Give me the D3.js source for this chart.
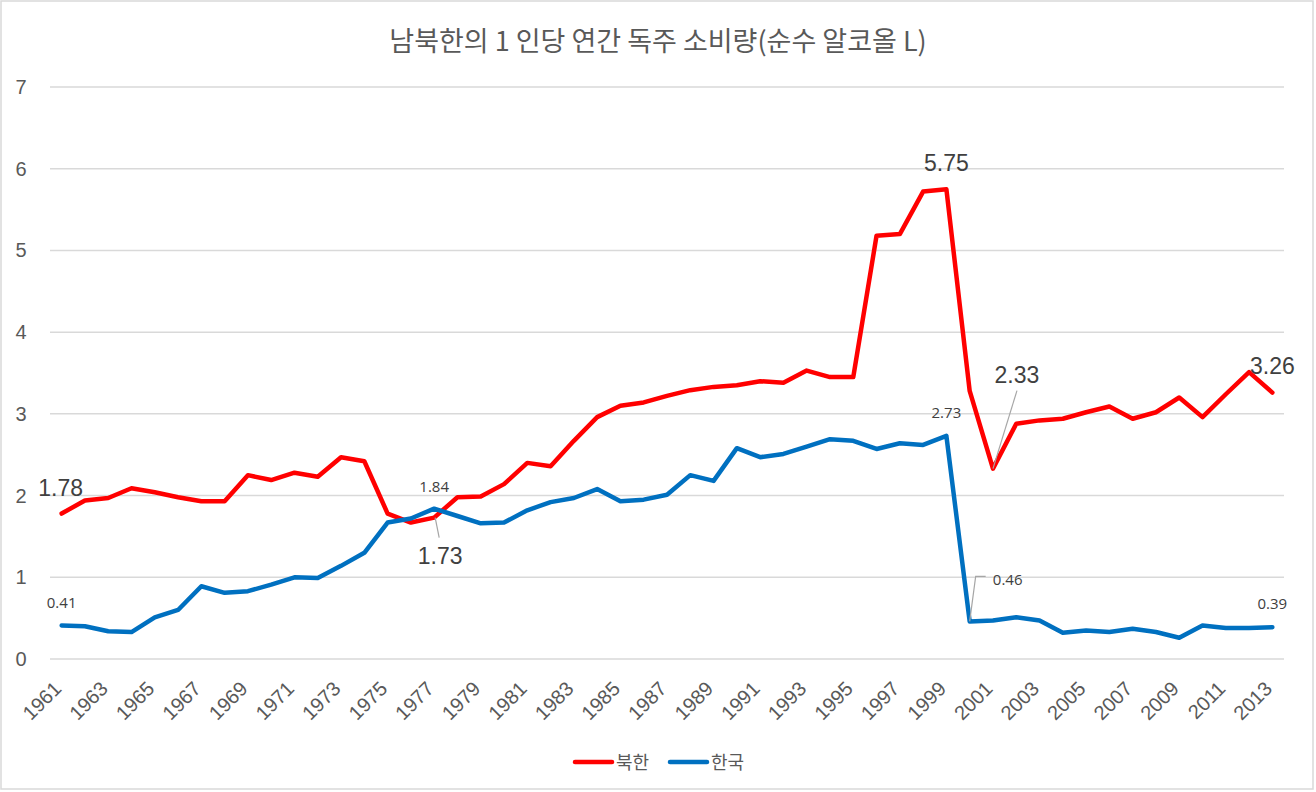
<!DOCTYPE html>
<head>
  <meta charset="utf-8">
  <script src="https://cdnjs.cloudflare.com/ajax/libs/d3/7.8.5/d3.min.js"></script>
  <style>
    body { margin:0; background:#fff; }
    svg { display:block; }
    text { font-family: "Liberation Sans", Arial, sans-serif; }
    .kr { font-family: "Noto Sans CJK KR", sans-serif; }
  </style>
</head>

<body>
  <script>
    var years = d3.range(1961, 2014);
    // 북한
    var north = [1.78, 1.94, 1.97, 2.09, 2.04, 1.98, 1.93, 1.93, 2.25, 2.19,
                 2.28, 2.23, 2.47, 2.42, 1.78, 1.67, 1.73, 1.98, 1.99, 2.14,
                 2.40, 2.36, 2.67, 2.96, 3.10, 3.14, 3.22, 3.29, 3.33, 3.35,
                 3.40, 3.38, 3.53, 3.45, 3.45, 5.18, 5.20, 5.72, 5.75, 3.28,
                 2.33, 2.88, 2.92, 2.94, 3.02, 3.09, 2.94, 3.02, 3.20, 2.96,
                 3.24, 3.51, 3.26];
    // 한국
    var south = [0.41, 0.40, 0.34, 0.33, 0.51, 0.60, 0.89, 0.81, 0.83, 0.91,
                 1.00, 0.99, 1.14, 1.30, 1.67, 1.72, 1.84, 1.75, 1.66, 1.67,
                 1.82, 1.92, 1.97, 2.08, 1.93, 1.95, 2.01, 2.25, 2.18, 2.58,
                 2.47, 2.51, 2.60, 2.69, 2.67, 2.57, 2.64, 2.62, 2.73, 0.46,
                 0.47, 0.51, 0.47, 0.32, 0.35, 0.33, 0.37, 0.33, 0.26, 0.41,
                 0.38, 0.38, 0.39];
    var yTicks = [0, 1, 2, 3, 4, 5, 6, 7];
    var seriesNames = ["북한", "한국"];
    var seriesColors = ["#ff0000", "#0070c0"];

    var W = 1316, H = 792;
    var svg = d3.select("body").append("svg").attr("width", W).attr("height", H);

    svg.append("rect")
      .attr("x", 1).attr("y", 1).attr("width", W - 4).attr("height", H - 4)
      .style("fill", "#fff").style("stroke", "#d9d9d9").style("stroke-width", 1.5);

    var x = d3.scalePoint().domain(years).range([50, 1284]).padding(0.5);
    var y = d3.scaleLinear().domain([0, 7]).range([659, 87]);

    // title
    svg.append("text").attr("class", "kr")
      .attr("x", 658).attr("y", 51).attr("text-anchor", "middle")
      .style("font-size", "27px").style("fill", "#595959")
      .text("남북한의 1 인당 연간 독주 소비량(순수 알코올 L)");

    // gridlines + y labels
    var gy = svg.append("g");
    gy.selectAll("line").data(yTicks).enter().append("line")
      .attr("x1", 50).attr("x2", 1284)
      .attr("y1", function(d){ return y(d); }).attr("y2", function(d){ return y(d); })
      .style("stroke", "#d9d9d9").style("stroke-width", 1.5);
    gy.selectAll("text").data(yTicks).enter().append("text")
      .attr("x", 21).attr("y", function(d){ return y(d) + 7; })
      .attr("text-anchor", "middle")
      .style("font-size", "20px").style("fill", "#595959")
      .text(function(d){ return d; });

    // x labels, every other year
    svg.append("g").selectAll("text")
      .data(years.filter(function(d, i){ return i % 2 == 0; }))
      .enter().append("text")
      .attr("transform", function(d){ return "translate(" + (x(d) - 9) + ",680) rotate(-45)"; })
      .attr("text-anchor", "end")
      .attr("dy", "0.7em")
      .style("font-size", "20px").style("fill", "#595959")
      .text(function(d){ return d; });

    var line = d3.line()
      .x(function(d, i){ return x(years[i]); })
      .y(function(d){ return y(d); });

    [north, south].forEach(function(data, k){
      svg.append("path").datum(data)
        .attr("d", line)
        .style("fill", "none").style("stroke", seriesColors[k])
        .style("stroke-width", 4.5).style("stroke-linejoin", "round").style("stroke-linecap", "round");
    });

    // data labels (offsets relative to the point)
    function idx(yr){ return years.indexOf(yr); }
    var labels = [
      {s: north, yr: 1961, dx: -1, dy: -26, big: true},
      {s: north, yr: 1977, dx: 6, dy: 38, big: true, leader: [[1, 0], [5, 20]]},
      {s: north, yr: 1999, dx: 0, dy: -26, big: true},
      {s: north, yr: 2001, dx: 24, dy: -94, big: true, leader: [[0, 0], [24, -78]]},
      {s: north, yr: 2013, dx: 0, dy: -27, big: true},
      {s: south, yr: 1961, dx: 0, dy: -23, big: false},
      {s: south, yr: 1977, dx: 0, dy: -22, big: false},
      {s: south, yr: 1999, dx: 0, dy: -23, big: false},
      {s: south, yr: 2000, dx: 38, dy: -42, big: false, leader: [[0, 0], [6, -45], [16, -45]]},
      {s: south, yr: 2013, dx: 0, dy: -23, big: false}
    ];
    var gl = svg.append("g");
    labels.forEach(function(l){
      var v = l.s[idx(l.yr)];
      var px = x(l.yr), py = y(v);
      if (l.leader) {
        gl.append("path")
          .attr("d", d3.line()(l.leader.map(function(p){ return [px + p[0], py + p[1]]; })))
          .style("fill", "none").style("stroke", "#a6a6a6").style("stroke-width", 1.2);
      }
      gl.append("text")
        .attr("x", px + l.dx).attr("y", py + l.dy)
        .attr("text-anchor", "middle")
        .attr("dy", "0.35em")
        .style("font-family", l.big ? '"Liberation Sans", Arial, sans-serif' : '"Open Sans", sans-serif')
        .style("font-size", l.big ? "23px" : "15px")
        .style("fill", "#404040")
        .text(v.toFixed(2));
    });

    // legend
    var lg = svg.append("g").attr("transform", "translate(573,762)");
    seriesNames.forEach(function(n, k){
      var ox = k * 95;
      lg.append("line").attr("x1", ox + 2).attr("x2", ox + 39)
        .style("stroke", seriesColors[k]).style("stroke-width", 4.5).style("stroke-linecap", "round");
      lg.append("text").attr("class", "kr")
        .attr("x", ox + 43).attr("y", 7)
        .style("font-size", "18px").style("fill", "#595959")
        .text(n);
    });
  </script>
</body>
